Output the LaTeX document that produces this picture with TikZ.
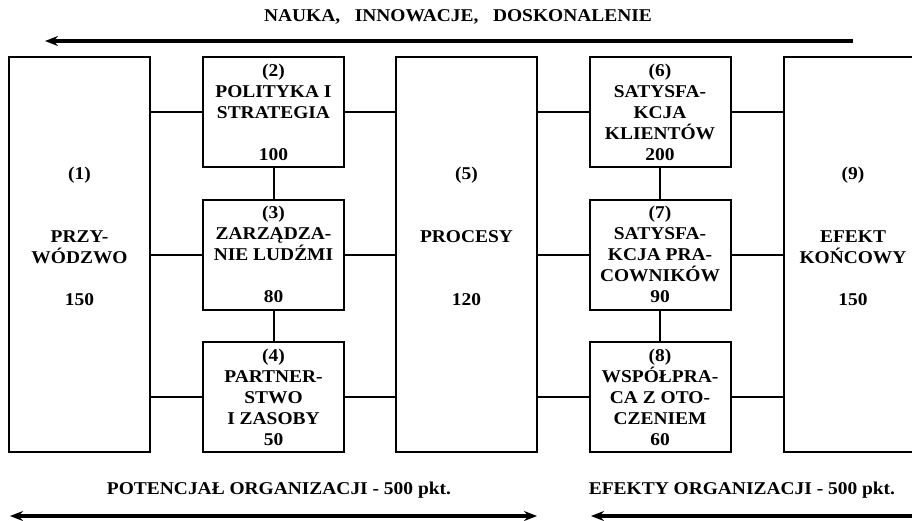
\documentclass[tikz,border=0pt]{standalone}
\usepackage{fontspec}
\setmainfont{Liberation Serif}[FakeStretch=1.08]
\usepackage{tikz}
\usetikzlibrary{arrows.meta}

\tikzset{flowtip/.tip={Stealth[length=13pt,width=10pt]}}

\begin{document}
\begin{tikzpicture}[x=1pt,y=-1pt,
    every node/.style={font=\fontsize{18}{21}\selectfont\bfseries},
    box/.style={draw,line width=2pt,minimum width=141pt,minimum height=110pt,inner sep=0pt,align=center},
    bigbox/.style={box,minimum height=395pt},
    txt/.style={align=center,inner sep=0pt},
    conn/.style={line width=2pt},
    flow/.style={line width=3.5pt}]
    \useasboundingbox (0,0) rectangle (912,520);
    \clip (0,0) rectangle (912,520);
          \node[bigbox] (p1) at (79.5,254.5) {};
          \node[txt] at (79.5,236.5) {(1)\\[42pt]PRZY-\\WÓDZWO\\[21pt]150};
          \node[box] (p2) at (273.5,112) {(2)\\POLITYKA I\\STRATEGIA\\[21pt]100};
          \node[box] (p3) at (273.5,254.5) {(3)\\ZARZĄDZA-\\NIE LUDŹMI\\[21pt]80};
          \node[box] (p4) at (273.5,397) {(4)\\PARTNER-\\STWO\\I ZASOBY\\50};
          \node[bigbox] (p5) at (466.5,254.5) {};
          \node[txt] at (466.5,236.5) {(5)\\[42pt]PROCESY\\[42pt]120};
          \node[box] (p6) at (660,112) {(6)\\SATYSFA-\\KCJA\\KLIENTÓW\\200};
          \node[box] (p7) at (660,254.5) {(7)\\SATYSFA-\\KCJA PRA-\\COWNIKÓW\\90};
          \node[box] (p8) at (660,397) {(8)\\WSPÓŁPRA-\\CA Z OTO-\\CZENIEM\\60};
          \node[bigbox] (p9) at (854.5,254.5) {};
          \node[txt] at (853,236.5) {(9)\\[42pt]EFEKT\\KOŃCOWY\\[21pt]150};
          \foreach \b in {p2,p3,p4} {
            \draw[conn] (p1.east |- \b) -- (\b.west);
            \draw[conn] (\b.east) -- (\b.east -| p5.west);
          }
          \foreach \b in {p6,p7,p8} {
            \draw[conn] (p5.east |- \b) -- (\b.west);
            \draw[conn] (\b.east) -- (\b.east -| p9.west);
          }
          \draw[conn] (p2.south) -- (p3.north);
          \draw[conn] (p3.south) -- (p4.north);
          \draw[conn] (p6.south) -- (p7.north);
          \draw[conn] (p7.south) -- (p8.north);
          \node[txt] (nauka) at (458,17) {NAUKA,\ \ \ INNOWACJE,\ \ \ DOSKONALENIE};
          \coordinate (naukaR) at (853,41);
          \coordinate (naukaL) at (45,41);
          \draw[flow,-flowtip] (naukaR) -- (naukaL);
          \node[txt] (potencjal) at (279,490) {POTENCJAŁ ORGANIZACJI - 500 pkt.};
          \node[txt] (efekty) at (742,490) {EFEKTY ORGANIZACJI - 500 pkt.};
          \coordinate (potL) at (10,516);
          \coordinate (potR) at (537,516);
          \coordinate (efL) at (591,516);
          \coordinate (efR) at (940,516);
          \draw[flow,flowtip-flowtip] (potL) -- (potR);
          \draw[flow,flowtip-] (efL) -- (efR);
        \end{tikzpicture}
\end{document}
